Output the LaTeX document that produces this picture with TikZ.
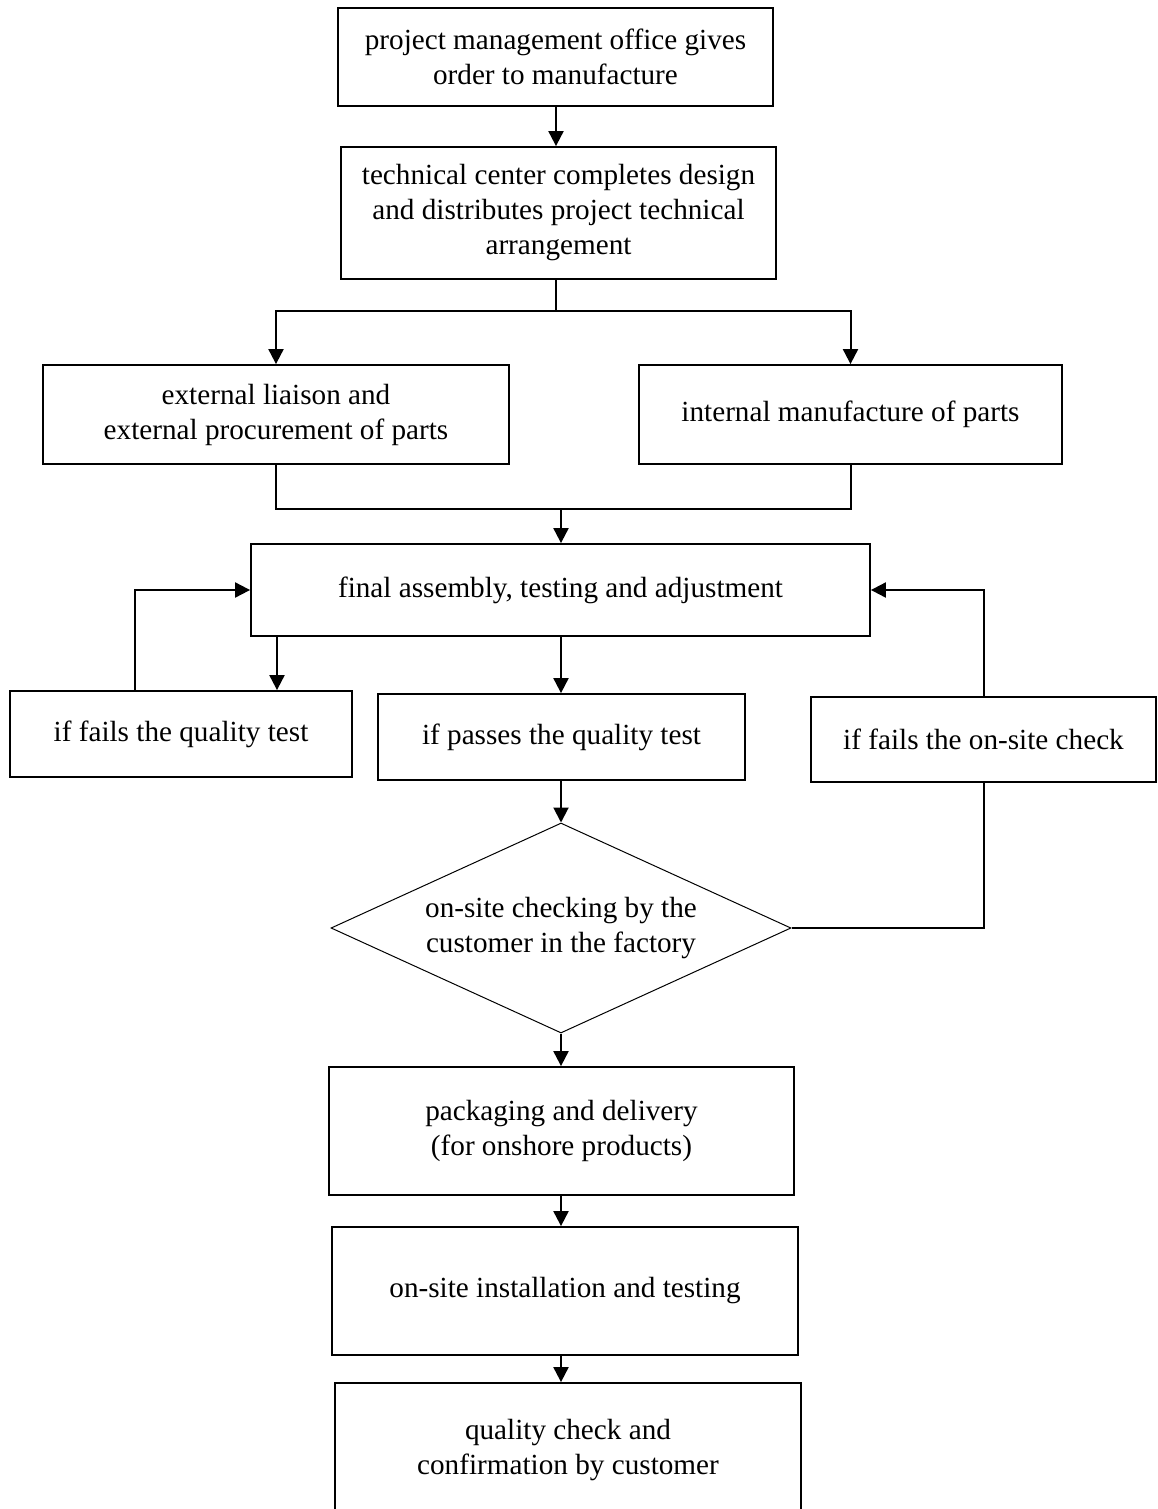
\documentclass[tikz,border=0pt]{standalone}
\usepackage{fontspec}
\setmainfont{Liberation Serif}
\usepackage{tikz}
\usetikzlibrary{shapes.geometric,arrows.meta}

\tikzset{
  stepbox/.style={draw,line width=0.9pt,align=center,inner sep=0pt,
    font=\fontsize{14.6}{17.5}\selectfont},
  arr/.style={line width=1pt,-{Triangle[length=7.5pt,width=7.5pt]}},
  lin/.style={line width=1pt}
}

\begin{document}
\begin{tikzpicture}[x=0.5pt,y=-0.5pt]
\useasboundingbox (0,0) rectangle (1157,1509);

% Boxes
\node[stepbox,minimum width=217.5pt,minimum height=49pt] (order) at (555.5,57)
  {project management office gives\\order to manufacture};
\node[stepbox,minimum width=217.5pt,minimum height=66pt] (design) at (558.5,213)
  {technical center completes design\\and distributes project technical\\arrangement};
\node[stepbox,minimum width=233pt,minimum height=49.5pt] (extproc) at (276,414.5)
  {external liaison and\\external procurement of parts};
\node[stepbox,minimum width=211.5pt,minimum height=49.5pt] (intmanu) at (850.5,414.5)
  {internal manufacture of parts};
\node[stepbox,minimum width=309.5pt,minimum height=46pt] (assembly) at (560.5,590)
  {final assembly, testing and adjustment};
\node[stepbox,minimum width=171pt,minimum height=43pt] (failq) at (181,734)
  {if fails the quality test};
\node[stepbox,minimum width=183.5pt,minimum height=43pt] (passq) at (561.5,737)
  {if passes the quality test};
\node[stepbox,minimum width=172.5pt,minimum height=42.5pt] (failsite) at (983.5,739.5)
  {if fails the on-site check};
\node[stepbox,diamond,line width=0.5pt,aspect=2.19,minimum width=230pt,minimum height=105pt] (check) at (561,928)
  {on-site checking by the\\customer in the factory};
\node[stepbox,minimum width=232.5pt,minimum height=64pt] (pack) at (561.5,1131)
  {packaging and delivery\\(for onshore products)};
\node[stepbox,minimum width=233pt,minimum height=64pt] (install) at (565,1291)
  {on-site installation and testing};
\node[stepbox,minimum width=233pt,minimum height=67pt] (confirm) at (568,1450)
  {quality check and\\confirmation by customer};

% Helper points
\coordinate (split) at (556,311);
\coordinate (merge) at (561,509);
\coordinate (fqin) at (277,0);
\coordinate (fqout) at (135,0);

% Connectors
\draw[arr] (order.south -| split) -- (split |- design.north);
\draw[lin] (design.south -| split) -- (split);
\draw[arr] (split) -| (extproc.north);
\draw[arr] (split) -| (intmanu.north);
\draw[lin] (extproc.south) |- (merge) -| (intmanu.south);
\draw[arr] (merge) -- (merge |- assembly.north);
\draw[arr] (assembly.south -| fqin) -- (failq.north -| fqin);
\draw[arr] (failq.north -| fqout) |- (assembly.west);
\draw[arr] (assembly.south -| check.north) -- (passq.north -| check.north);
\draw[arr] (passq.south -| check.north) -- (check.north);
\draw[lin] (check.east) -| (failsite.south);
\draw[arr] (failsite.north) |- (assembly.east);
\draw[arr] (check.south) -- (check.south |- pack.north);
\draw[arr] (check.south |- pack.south) -- (check.south |- install.north);
\draw[arr] (check.south |- install.south) -- (check.south |- confirm.north);

\end{tikzpicture}
\end{document}
